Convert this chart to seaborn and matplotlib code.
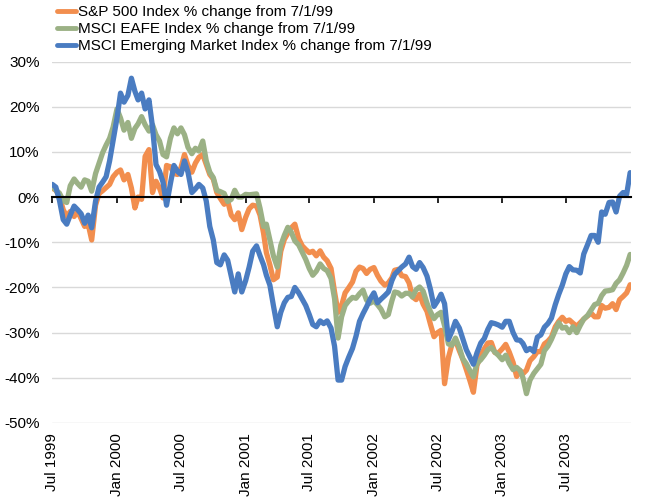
import pandas as pd
import matplotlib
matplotlib.use("Agg")
import matplotlib.pyplot as plt
import matplotlib.dates as mdates
import seaborn as sns

sns.set_theme(style="white")
plt.rcParams['font.family'] = ['Liberation Sans', 'DejaVu Sans']

# Eixo x: três leituras por mês (dias 1, 11, 21) de jul/1999 a dez/2003
months = pd.period_range("1999-07", "2003-12", freq="M")
dates = [pd.Timestamp(p.year, p.month, d) for p in months for d in (1, 11, 21)]
dates.append(pd.Timestamp("2003-12-31"))

sp500 = [
    2.0, 1.5, 0.2, -2.8, -4.3, -3.2, -4.3, -3.2, -4.8, -6.5, -6.0, -9.5,
    -1.8, 0.8, 1.4, 2.1, 2.8, 4.5, 5.5, 6.0, 3.8, 5.0, 2.0, -2.4,
    0.0, -0.5, 9.0, 10.5, 1.0, 3.5, 2.0, -0.2, 7.0, 6.7, 5.2, 5.0,
    6.5, 9.4, 7.0, 5.5, 7.5, 8.8, 9.4, 7.2, 5.0, 4.0, 1.0, -0.3,
    -1.6, -0.9, -4.0, -5.0, -3.5, -7.2, -4.5, -2.6, -1.8, -2.0, -4.0, -8.0,
    -12.3, -15.0, -18.3, -17.7, -12.0, -9.4, -8.0, -6.8, -6.0, -9.2, -10.8, -11.6,
    -12.3, -12.0, -13.0, -11.9, -13.3, -14.1, -15.8, -21.0, -25.5, -24.0, -21.2, -20.1,
    -18.8, -16.4, -15.5, -15.8, -16.9, -16.0, -15.6, -17.3, -18.6, -19.5, -19.0, -17.9,
    -16.2, -16.0, -17.4, -17.6, -19.0, -22.1, -22.7, -21.5, -23.7, -25.3, -28.2, -30.9,
    -30.0, -29.5, -41.3, -35.5, -32.6, -31.7, -34.0, -35.9, -38.2, -40.6, -43.2, -37.3,
    -35.1, -33.6, -32.3, -32.2, -34.4, -34.5, -33.6, -32.6, -34.3, -36.6, -39.7, -38.4,
    -39.1, -38.3, -36.2, -35.3, -34.2, -34.2, -32.5, -31.9, -31.0, -28.7, -27.5, -26.6,
    -27.5, -27.2, -27.9, -28.6, -27.8, -27.0, -26.3, -25.7, -26.5, -26.5, -24.0, -24.6,
    -24.4, -23.6, -24.9, -22.7, -22.0, -21.2, -19.4,
]

eafe = [
    2.4, 1.5, 0.9, -0.8, -1.2, 2.5, 4.0, 3.0, 2.2, 3.8, 3.5, 1.3,
    5.2, 7.5, 9.8, 11.5, 13.0, 15.5, 19.5, 17.5, 14.8, 16.5, 13.0, 15.2,
    16.2, 17.8, 16.0, 14.6, 16.0, 13.8, 12.4, 9.4, 8.9, 13.0, 15.3, 14.0,
    15.3, 13.8, 11.0, 9.6, 10.8, 10.2, 12.4, 8.0, 5.5, 4.3, 1.5, 1.2,
    0.8, -1.0, -0.5, 1.5, 0.0, 0.0, 0.6, 0.5, 0.6, 0.7, -2.5, -6.5,
    -6.0, -9.5, -13.0, -15.5, -10.7, -8.5, -6.7, -7.8, -9.7, -10.6, -12.2, -13.8,
    -15.8, -17.3, -16.4, -14.8, -15.8, -16.3, -18.0, -22.5, -31.2, -26.5, -24.0, -23.0,
    -22.2, -22.4, -21.4, -20.6, -22.8, -23.5, -23.0, -23.8, -24.8, -26.5, -26.0, -23.0,
    -21.0, -21.2, -21.9, -21.3, -21.3, -22.1, -20.5, -19.9, -20.8, -23.5, -25.4, -26.9,
    -26.0, -25.5, -28.5, -32.5, -32.8, -31.2, -33.3, -35.8, -36.9, -38.4, -39.8, -36.8,
    -36.0, -35.0, -33.8, -33.3, -34.3, -35.0, -36.0, -35.0, -36.8, -38.2, -37.7, -38.4,
    -40.0, -43.5, -40.5, -39.0, -38.0, -37.0, -34.0, -33.0, -31.5, -29.5, -27.8, -29.0,
    -28.8, -30.0, -28.7, -30.0, -28.4, -27.0, -26.2, -25.0, -23.8, -23.5, -21.8, -20.8,
    -20.7, -20.5, -19.1, -18.3, -16.8, -15.1, -12.7,
]

emerging = [
    2.8, 2.2, -0.6, -5.0, -6.0, -4.0, -2.0, -2.8, -3.7, -5.8, -4.0, -6.8,
    -0.9, 2.2, 3.3, 4.5, 8.0, 12.5, 17.5, 23.0, 21.0, 22.5, 26.3, 23.4,
    21.5, 23.0, 19.5, 21.5, 15.5, 7.2, 5.7, 3.3, -1.8, 3.0, 7.0, 5.7,
    5.0, 8.0, 5.5, 1.0, 1.8, 2.8, 2.0, -0.9, -6.5, -9.5, -14.5, -15.0,
    -12.8, -14.0, -17.5, -21.0, -17.0, -21.0, -18.5, -15.5, -12.0, -10.8, -13.0, -15.0,
    -17.3, -19.5, -24.0, -28.7, -25.5, -23.4, -22.2, -22.0, -20.0, -21.2, -22.6, -24.0,
    -26.0, -28.2, -28.7, -27.4, -28.0, -27.4, -29.0, -33.0, -40.5, -40.5, -37.5, -35.5,
    -33.5, -30.8, -27.5, -25.8, -24.3, -22.6, -21.2, -23.4, -22.6, -21.8, -21.0, -18.5,
    -17.1, -16.3, -15.5, -14.8, -13.3, -15.4, -16.0, -14.5, -15.6, -17.5, -20.5, -24.2,
    -23.0, -21.5, -23.6, -31.5, -29.7, -27.5, -29.0, -31.4, -33.8, -35.4, -37.0, -34.5,
    -32.3, -31.3, -29.3, -27.8, -28.0, -28.3, -28.8, -27.5, -27.5, -30.0, -31.6, -31.7,
    -32.4, -34.0, -33.5, -34.2, -31.0, -30.5, -28.8, -28.0, -26.8, -23.8, -21.5, -19.5,
    -17.0, -15.4, -16.1, -16.2, -16.8, -12.6, -10.5, -8.5, -8.5, -10.0, -3.3, -3.8,
    -1.2, -1.1, -3.3, 0.2, 1.0, 0.6, 5.4,
]

labels = [
    "S&P 500 Index % change from 7/1/99",
    "MSCI EAFE Index % change from 7/1/99",
    "MSCI Emerging Market Index % change from 7/1/99",
]
colors = ["#F28E4E", "#9BB185", "#4A7CC1"]

tick_dates = [pd.Timestamp(y, m, 1) for y in range(1999, 2004) for m in (1, 7)][1:]
tick_labels = [d.strftime("%b %Y") for d in tick_dates]

df = pd.DataFrame({
    "date": dates * 3,
    "pct": sp500 + eafe + emerging,
    "series": [labels[0]] * len(dates) + [labels[1]] * len(dates) + [labels[2]] * len(dates),
})

fig, ax = plt.subplots(figsize=(6.5, 5), dpi=100)
fig.subplots_adjust(left=0.0805, right=0.970, top=0.877, bottom=0.154)

sns.lineplot(data=df, x="date", y="pct", hue="series", hue_order=labels,
             palette=colors, linewidth=3.8, ax=ax)

ax.set_xlim(pd.Timestamp("1999-07-01"), pd.Timestamp("2004-01-01"))
ax.set_ylim(-50, 30)
ax.set_yticks(range(-50, 31, 10))
ax.set_yticklabels([f"{v}%" for v in range(-50, 31, 10)])
ax.set_xlabel("")
ax.set_ylabel("")

ax.yaxis.grid(True, color="#D9D9D9", linewidth=1)
ax.xaxis.grid(False)
ax.set_axisbelow(True)
for s in ("left", "right", "top"):
    ax.spines[s].set_visible(False)

# linha do zero com marcas, rótulos de data embaixo
ax.spines["bottom"].set_position(("data", 0))
ax.spines["bottom"].set_color("black")
ax.spines["bottom"].set_linewidth(1.5)
ax.set_xticks(tick_dates)
ax.tick_params(axis="x", bottom=True, direction="out", length=4, width=1.2,
               color="black", labelbottom=False)
ax.tick_params(axis="y", left=False, length=0, pad=9, labelsize=11, labelcolor="black")

sec = ax.secondary_xaxis("bottom")
sec.set_xticks(mdates.date2num(tick_dates), labels=tick_labels)
sec.tick_params(length=0, labelrotation=90, labelsize=11, pad=7, labelcolor="black")
sec.spines["bottom"].set_visible(False)

handles, _ = ax.get_legend_handles_labels()
leg = ax.legend(handles, labels, loc="upper left", bbox_to_anchor=(0.087, 0.99),
                bbox_transform=fig.transFigure, frameon=False, handlelength=1.3,
                handletextpad=0.1, labelspacing=0.2, borderpad=0, borderaxespad=0,
                fontsize=11)
for line in leg.get_lines():
    line.set_linewidth(3.5)
for t in leg.get_texts():
    t.set_color("black")

plt.savefig("out.png", dpi=100)
